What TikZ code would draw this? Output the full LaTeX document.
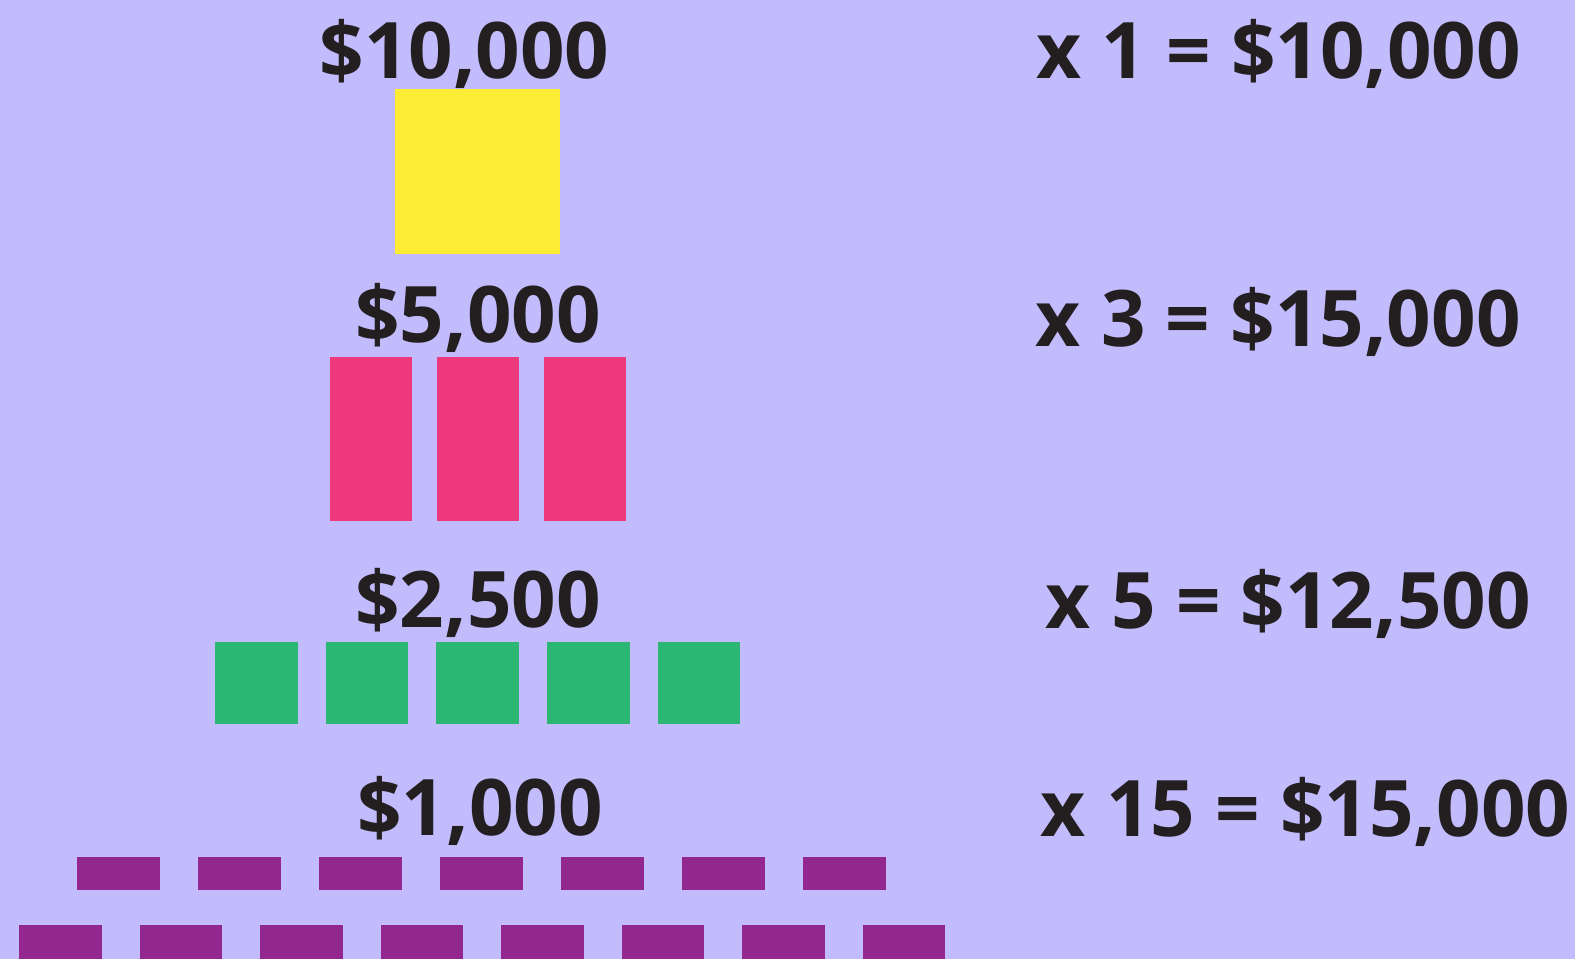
\documentclass[tikz,border=0pt]{standalone}
\usepackage{fontspec}
\setmainfont{Open Sans}
\usepackage{tikz}

\definecolor{lavender}{RGB}{194,187,252}
\definecolor{inkblack}{RGB}{35,31,32}
\definecolor{tenk}{RGB}{252,236,52}
\definecolor{fivek}{RGB}{239,57,125}
\definecolor{twofivek}{RGB}{44,182,115}
\definecolor{onek}{RGB}{146,39,143}

\tikzset{
  money/.style={inner sep=0pt, text=inkblack, font=\bfseries\fontsize{78}{80}\selectfont},
  price/.style={money, anchor=base},
  total/.style={money, anchor=base west},
}

\begin{document}
\begin{tikzpicture}[x=1pt, y=-1pt]
            \useasboundingbox (0,0) rectangle (1575,959);
            \fill[lavender] (0,0) rectangle (1575,959);
            % bills
            \fill[tenk] (395,89) rectangle (560,254);
            \foreach \i in {0,1,2}
                \fill[fivek] ({329.5+107*\i},356.6) rectangle ++(82.5,164.7);
            \foreach \i in {0,...,4}
                \fill[twofivek] ({215+110.7*\i},642) rectangle ++(82.5,82.2);
            \foreach \i in {0,...,6}
                \fill[onek] ({77.3+121*\i},857) rectangle ++(82.5,33);
            \foreach \i in {0,...,7}
                \fill[onek] ({19+120.5*\i},925) rectangle ++(82.5,34);
            % labels
            \node[price] (p10) at (464.5,78) {\$10,000};
            \node[price] (p5) at (478,342.5) {\$5,000};
            \node[price] (p25) at (478,627) {\$2,500};
            \node[price] (p1) at (480,835.7) {\$1,000};
            \node[total] (t10) at (1036,78) {x 1 = \$10,000};
            \node[total] (t5) at (1035.6,346.5) {x 3 = \$15,000};
            \node[total] (t25) at (1045.7,628.8) {x 5 = \$12,500};
            \node[total] (t1) at (1040.7,836.8) {x 15 = \$15,000};
        \end{tikzpicture}
\end{document}
